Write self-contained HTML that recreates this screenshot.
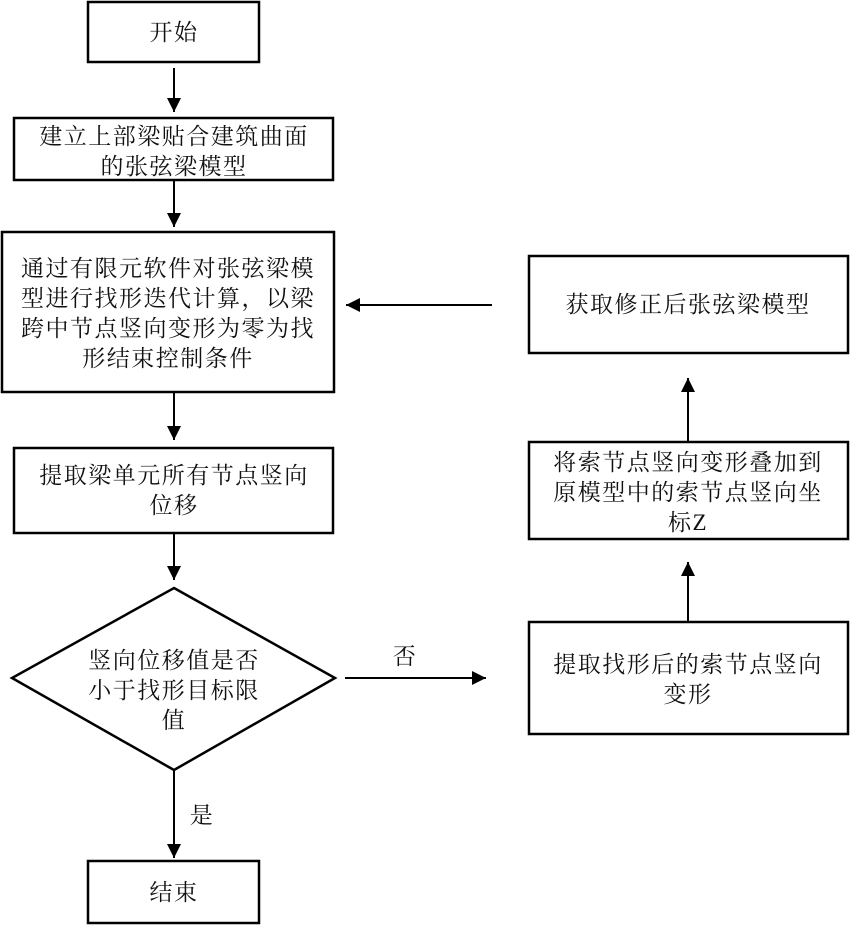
<!DOCTYPE html>
<html><head><meta charset="utf-8"><style>
html,body{margin:0;padding:0;background:#fff;}
svg{display:block;}
text{font-family:"Liberation Serif","Noto Serif CJK SC",serif;font-size:23px;fill:#111;text-anchor:middle;letter-spacing:1.5px;}
</style></head><body>
<svg width="850" height="925" viewBox="0 0 850 925">
<defs><marker id="a" markerWidth="10" markerHeight="10" refX="9" refY="5" orient="auto" markerUnits="userSpaceOnUse"><path d="M0,0 L10,5 L0,10 z" fill="#000"/></marker>
<marker id="b" viewBox="0 0 10 10" markerWidth="14" markerHeight="14" refX="10" refY="5" orient="auto" markerUnits="userSpaceOnUse"><path d="M0,0 L10,5 L0,10 z" fill="#000"/></marker></defs>
<g fill="none" stroke="#000" stroke-width="2.5">
<rect x="88" y="2" width="171" height="60"/>
<rect x="14" y="118" width="319" height="62"/>
<rect x="2" y="232" width="332" height="160"/>
<rect x="14" y="448" width="319" height="85"/>
<polygon points="174,588 335,678 174,770 12,678"/>
<rect x="88" y="861" width="171" height="62"/>
<rect x="529" y="256" width="319" height="97"/>
<rect x="529" y="442" width="319" height="97"/>
<rect x="529" y="622" width="319" height="112"/>
</g>
<g stroke="#000" stroke-width="2" marker-end="url(#b)">
<line x1="174" y1="68" x2="174" y2="112"/>
<line x1="174" y1="181" x2="174" y2="227"/>
<line x1="174" y1="393" x2="174" y2="440"/>
<line x1="174" y1="534" x2="174" y2="580"/>
<line x1="174" y1="771" x2="174" y2="858"/>
<line x1="345" y1="678" x2="486" y2="678"/>
<line x1="688" y1="622" x2="688" y2="562"/>
<line x1="688" y1="442" x2="688" y2="378"/>
<line x1="492" y1="305" x2="346" y2="305"/>
</g>
<text x="174" y="40">开始</text>
<text x="174" y="144">建立上部梁贴合建筑曲面</text>
<text x="174" y="174">的张弦梁模型</text>
<text x="168" y="276">通过有限元软件对张弦梁模</text>
<text x="168" y="306">型进行找形迭代计算，以梁</text>
<text x="168" y="336">跨中节点竖向变形为零为找</text>
<text x="168" y="366">形结束控制条件</text>
<text x="174" y="483">提取梁单元所有节点竖向</text>
<text x="174" y="513">位移</text>
<text x="174" y="668">竖向位移值是否</text>
<text x="174" y="698">小于找形目标限</text>
<text x="174" y="728">值</text>
<text x="174" y="900">结束</text>
<text x="202" y="823">是</text>
<text x="405" y="664">否</text>
<text x="688" y="312">获取修正后张弦梁模型</text>
<text x="688" y="470">将索节点竖向变形叠加到</text>
<text x="688" y="500">原模型中的索节点竖向坐</text>
<text x="688" y="530">标Z</text>
<text x="688" y="672">提取找形后的索节点竖向</text>
<text x="688" y="702">变形</text>
</svg>
</body></html>
